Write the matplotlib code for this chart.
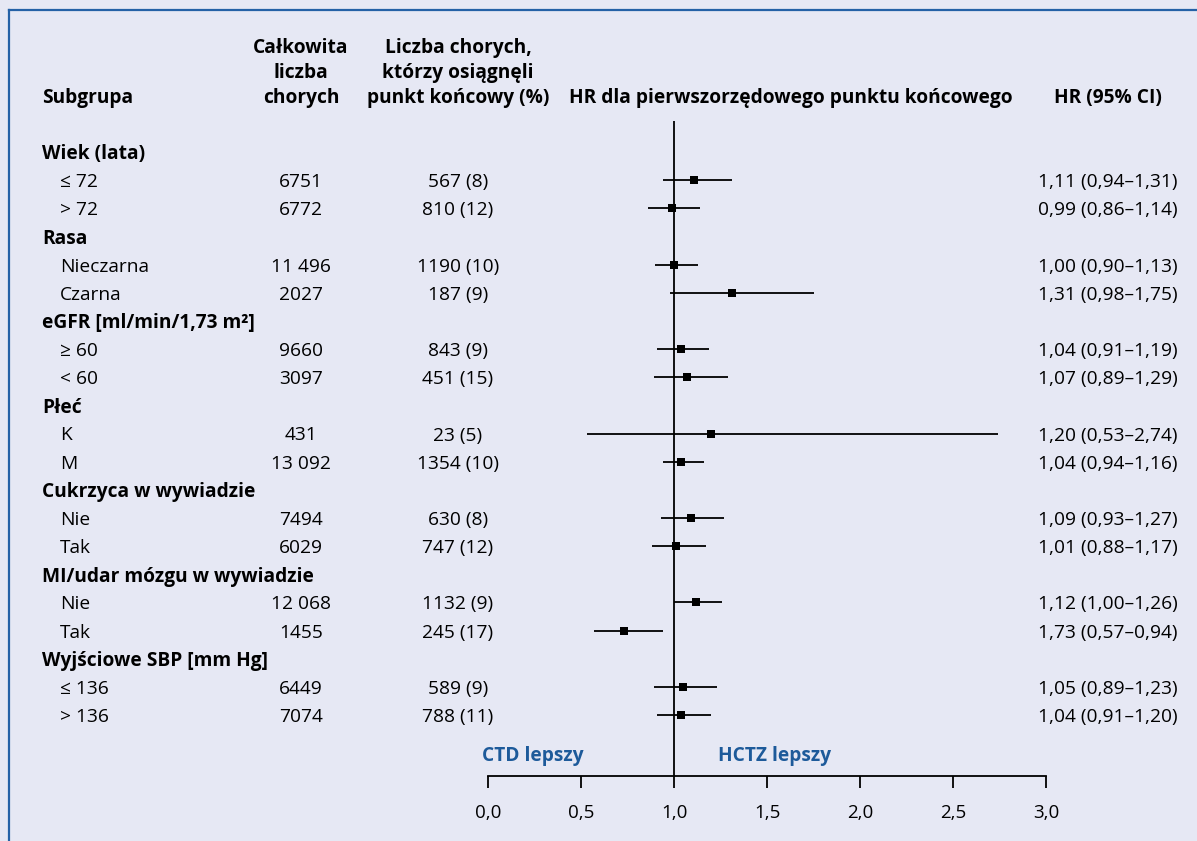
import matplotlib
matplotlib.use("Agg")
import matplotlib.pyplot as plt
import matplotlib.transforms as mtransforms
from matplotlib.lines import Line2D

plt.rcParams['font.family'] = ['Open Sans', 'DejaVu Sans']

# Subgroups and their rows
groups = [
    'Wiek (lata)', 'Rasa', 'eGFR [ml/min/1,73 m²]', 'Płeć',
    'Cukrzyca w wywiadzie', 'MI/udar mózgu w wywiadzie', 'Wyjściowe SBP [mm Hg]',
]
subgroups = [
    ['≤ 72', '> 72'],
    ['Nieczarna', 'Czarna'],
    ['≥ 60', '< 60'],
    ['K', 'M'],
    ['Nie', 'Tak'],
    ['Nie', 'Tak'],
    ['≤ 136', '> 136'],
]
n_total = [['6751', '6772'], ['11 496', '2027'], ['9660', '3097'], ['431', '13 092'],
           ['7494', '6029'], ['12 068', '1455'], ['6449', '7074']]
n_events = [['567 (8)', '810 (12)'], ['1190 (10)', '187 (9)'], ['843 (9)', '451 (15)'],
            ['23 (5)', '1354 (10)'], ['630 (8)', '747 (12)'], ['1132 (9)', '245 (17)'],
            ['589 (9)', '788 (11)']]
hr = [[1.11, 0.99], [1.00, 1.31], [1.04, 1.07], [1.20, 1.04],
      [1.09, 1.01], [1.12, 0.73], [1.05, 1.04]]
ci_low = [[0.94, 0.86], [0.90, 0.98], [0.91, 0.89], [0.53, 0.94],
          [0.93, 0.88], [1.00, 0.57], [0.89, 0.91]]
ci_high = [[1.31, 1.14], [1.13, 1.75], [1.19, 1.29], [2.74, 1.16],
           [1.27, 1.17], [1.26, 0.94], [1.23, 1.20]]
hr_text = [['1,11 (0,94–1,31)', '0,99 (0,86–1,14)'], ['1,00 (0,90–1,13)', '1,31 (0,98–1,75)'],
           ['1,04 (0,91–1,19)', '1,07 (0,89–1,29)'], ['1,20 (0,53–2,74)', '1,04 (0,94–1,16)'],
           ['1,09 (0,93–1,27)', '1,01 (0,88–1,17)'], ['1,12 (1,00–1,26)', '1,73 (0,57–0,94)'],
           ['1,05 (0,89–1,23)', '1,04 (0,91–1,20)']]
x_ticks = [0.0, 0.5, 1.0, 1.5, 2.0, 2.5, 3.0]
x_tick_labels = ['0,0', '0,5', '1,0', '1,5', '2,0', '2,5', '3,0']

BG = '#e6e8f4'
BLUE = '#1d5a9a'
W, H = 1197, 841
FS = 13.8

fig = plt.figure(figsize=(W / 100, H / 100), dpi=100, facecolor=BG)

def fx(px):
    return px / W

def fy(py):
    return 1 - py / H

# forest plot axes: HR scale 0..3
ax = fig.add_axes([fx(488), fy(776), fx(1046) - fx(488), fy(121) - fy(776)])
ax.patch.set_visible(False)
for side in ['top', 'right', 'left']:
    ax.spines[side].set_visible(False)
ax.spines['bottom'].set_linewidth(1.3)
ax.set_xlim(0, 3)
row_step = 28.15
ax.set_ylim((776 - 152) / row_step, (121 - 152) / row_step)
ax.set_yticks([])
ax.set_xticks(x_ticks)
ax.set_xticklabels(x_tick_labels, fontsize=13.5)
ax.tick_params(axis='x', direction='out', length=8.5, width=1.3, pad=12)
ax.axvline(1.0, color='black', lw=1.3, zorder=1)

trans = mtransforms.blended_transform_factory(fig.transFigure, ax.transData)

# header lines (baselines in pixels)
hdr = dict(fontsize=FS, fontweight='bold', va='baseline', ha='center')
fig.text(fx(42), fy(103), 'Subgrupa', fontsize=FS, fontweight='bold', va='baseline', ha='left')
for txt, yb in zip(['Całkowita', 'liczba', 'chorych'], [53, 78, 103]):
    fig.text(fx(301), fy(yb), txt, **hdr)
for txt, yb in zip(['Liczba chorych,', 'którzy osiągnęli', 'punkt końcowy (%)'], [53, 78, 103]):
    fig.text(fx(458), fy(yb), txt, **hdr)
fig.text(fx(791), fy(103), 'HR dla pierwszorzędowego punktu końcowego', **hdr)
fig.text(fx(1108), fy(103), 'HR (95% CI)', **hdr)

# rows
row = 0
for g, name in enumerate(groups):
    ax.text(fx(42), row, name, transform=trans, fontsize=FS, fontweight='bold',
            va='center_baseline', ha='left', clip_on=False)
    row += 1
    for k in range(2):
        ax.text(fx(60), row, subgroups[g][k], transform=trans, fontsize=FS,
                va='center_baseline', ha='left', clip_on=False)
        ax.text(fx(301), row, n_total[g][k], transform=trans, fontsize=FS,
                va='center_baseline', ha='center', clip_on=False)
        ax.text(fx(458), row, n_events[g][k], transform=trans, fontsize=FS,
                va='center_baseline', ha='center', clip_on=False)
        ax.text(fx(1108), row, hr_text[g][k], transform=trans, fontsize=FS,
                va='center_baseline', ha='center', clip_on=False)
        ax.plot([ci_low[g][k], ci_high[g][k]], [row, row], color='black', lw=1.3,
                solid_capstyle='butt', zorder=2)
        ax.plot(hr[g][k], row, marker='s', ms=6, color='black', mec='black', mew=0, zorder=3)
        row += 1

# direction labels
ax.text(0.24, 21.35, 'CTD lepszy', color=BLUE, fontsize=FS, fontweight='bold',
        ha='center', va='center_baseline')
ax.text(1.54, 21.35, 'HCTZ lepszy', color=BLUE, fontsize=FS, fontweight='bold',
        ha='center', va='center_baseline')

# frame lines on top and left
fig.add_artist(Line2D([fx(9), 1], [fy(10), fy(10)], color='#2461a6', lw=1.6,
                      transform=fig.transFigure))
fig.add_artist(Line2D([fx(9), fx(9)], [fy(10), 0], color='#2461a6', lw=1.6,
                      transform=fig.transFigure))

fig.savefig('out.png', dpi=100, facecolor=BG)
